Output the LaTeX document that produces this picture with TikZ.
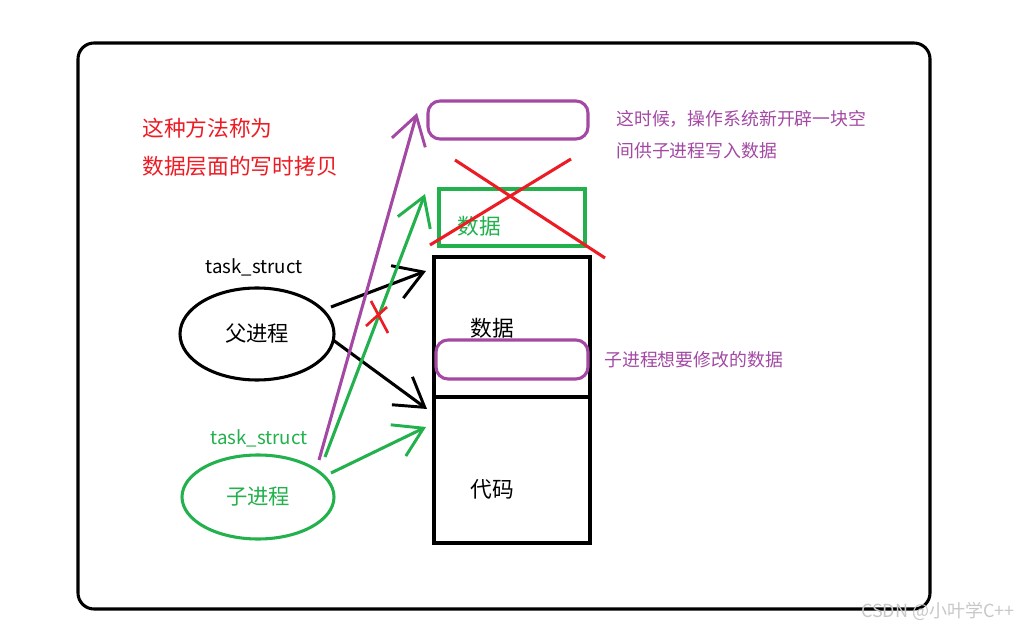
\documentclass[tikz,border=0pt]{standalone}
\usepackage{fontspec}
\setmainfont{Noto Sans CJK SC}
\usetikzlibrary{arrows.meta,shapes.geometric}
\definecolor{pRed}{HTML}{ED1C24}
\definecolor{pGreen}{HTML}{22B14C}
\definecolor{pPurple}{HTML}{A349A4}
\definecolor{wm}{HTML}{C8C8C8}
\tikzset{
  thickline/.style={line width=2.3pt},
  barb/.style={thickline, -{Straight Barb[length=21pt,width=26pt,line width=2.2pt]}},
  bigtxt/.style={font=\fontsize{16.3}{19}\selectfont, inner sep=0pt},
  midtxt/.style={font=\fontsize{13.4}{17}\selectfont, inner sep=0pt},
  tstxt/.style={font=\fontsize{14}{17}\selectfont, inner sep=0pt},
  proc/.style={thickline, draw, ellipse, inner sep=0pt, font=\fontsize{16}{19}\selectfont},
  boxline/.style={draw, line width=2.3pt},
}
\begin{document}
\begin{tikzpicture}[x=0.75pt,y=-0.75pt]
\useasboundingbox (0,0) rectangle (1020,630);
\fill[white] (0,0) rectangle (1020,630);
% outer frame
\draw[thickline, rounded corners=12pt] (78,43) rectangle (930,609);
% red title
\node[bigtxt, text=pRed, anchor=west] (t1) at (142,128) {这种方法称为};
\node[bigtxt, text=pRed, anchor=west] (t2) at (142,166) {数据层面的写时拷贝};
% new purple block
\draw[thickline, pPurple, rounded corners=9pt] (428,101) rectangle (588,139);
\coordinate (newblk) at (417,113);
\node[midtxt, text=pPurple, anchor=west] (n1) at (616,119) {这时候，操作系统新开辟一块空};
\node[midtxt, text=pPurple, anchor=west] (n2) at (616,151) {间供子进程写入数据};
% green data block
\path[boxline, draw=pGreen] (439,189) -- (585,189) -- (585,246) -- (439,246) -- cycle;
\node[bigtxt, text=pGreen] (gdata) at (479,226) {数据};
\coordinate (gtip) at (425,194);
% red cross
\draw[thickline, pRed] (455,160) -- (605,258);
\draw[thickline, pRed] (430,245) -- (571,159);
% memory block
\path[boxline, draw=black] (434,257) -- (590,257) -- (590,543) -- (434,543) -- cycle;
\path[boxline, draw=black] (434,397) -- (590,397);
\node[bigtxt] (data) at (492,328) {数据};
\node[bigtxt] (code) at (492,489) {代码};
\draw[thickline, pPurple, rounded corners=9pt] (436,340) rectangle (588,379);
\node[midtxt, text=pPurple, anchor=west] (m1) at (604,360) {子进程想要修改的数据};
\coordinate (datatip) at (426,271);
\coordinate (codetip) at (427,409);
\coordinate (codetip2) at (426,427);
% processes
\node[proc, minimum width=115.5pt, minimum height=69pt] (parent) at (257,334) {父进程};
\node[tstxt] (pts) at (254,267) {task\_struct};
\node[proc, pGreen, text=pGreen, minimum width=114pt, minimum height=63pt] (child) at (258,497) {子进程};
\node[tstxt, text=pGreen] (cts) at (259,438) {task\_struct};
% connectors
\coordinate (p1) at (331,307);
\coordinate (p2) at (333,340);
\coordinate (c1) at (331,473);
\coordinate (c2) at (325,457);
\coordinate (c3) at (319,460);
\draw[barb] (p1) -- (datatip);
\draw[barb] (p2) -- (codetip);
\draw[barb, pGreen] (c1) -- (codetip2);
\draw[barb, pGreen] (c2) -- (gtip);
\draw[barb, pPurple] (c3) -- (newblk);
% small red cross on parent->data arrow
\draw[line width=2pt, pRed] (371,301) -- (388,333);
\draw[line width=2pt, pRed] (366,326) -- (387,307);
% watermark
\node[font=\fontsize{13.5}{16}\selectfont, text=wm, anchor=east, inner sep=0pt] (wmark) at (1015,611) {CSDN @小叶学C++};
\end{tikzpicture}
\end{document}
